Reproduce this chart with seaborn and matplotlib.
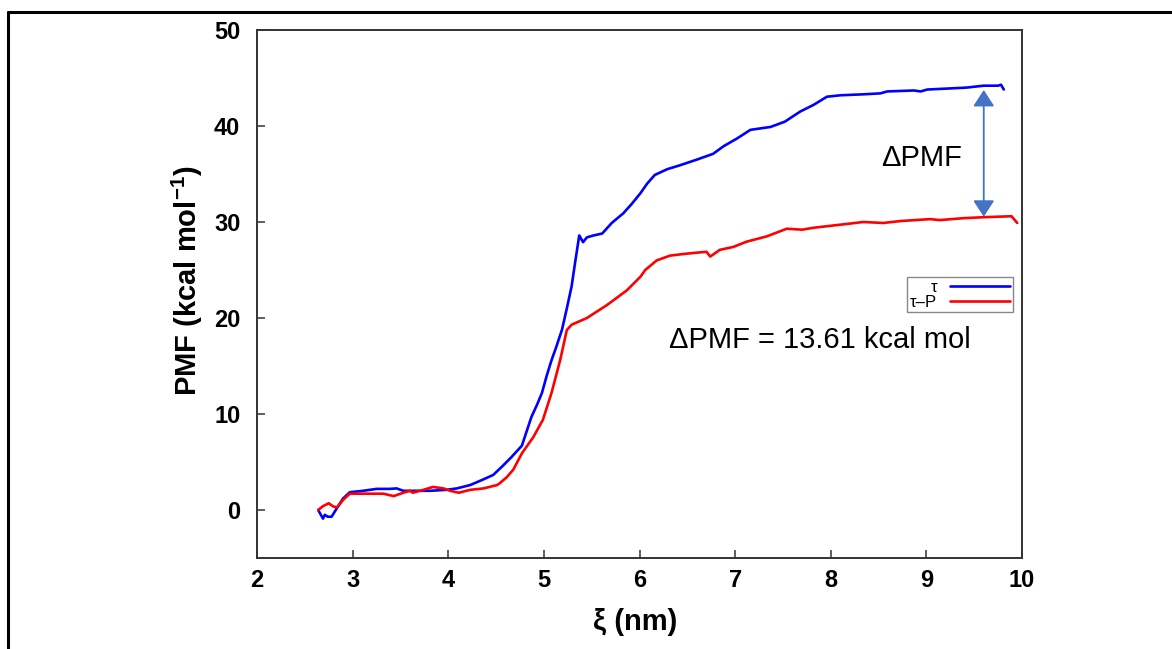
import numpy as np
import pandas as pd
import matplotlib
matplotlib.use("Agg")
import matplotlib.pyplot as plt
import seaborn as sns
from matplotlib.lines import Line2D

# --- data ---
xi_tau = [2.64, 2.69, 2.71, 2.74, 2.78, 2.83, 2.90, 2.97, 3.11, 3.25, 3.39, 3.46,
          3.53, 3.67, 3.81, 3.98, 4.09, 4.23, 4.37, 4.47, 4.56, 4.66, 4.77, 4.82,
          4.87, 4.93, 4.98, 5.03, 5.08, 5.13, 5.19, 5.24, 5.29, 5.33, 5.37, 5.41,
          5.45, 5.52, 5.61, 5.71, 5.83, 5.92, 6.01, 6.08, 6.16, 6.29, 6.42, 6.60,
          6.77, 6.88, 7.02, 7.16, 7.37, 7.52, 7.68, 7.82, 7.96, 8.10, 8.34, 8.52,
          8.59, 8.87, 8.94, 9.01, 9.22, 9.42, 9.60, 9.75, 9.78, 9.81]
pmf_tau = [0.0, -0.9, -0.5, -0.7, -0.7, 0.1, 1.2, 1.85, 2.0, 2.2, 2.2, 2.25,
           2.0, 2.0, 2.0, 2.1, 2.25, 2.6, 3.2, 3.65, 4.5, 5.5, 6.7, 8.2,
           9.7, 11.0, 12.2, 14.0, 15.6, 17.0, 18.8, 21.0, 23.3, 26.0, 28.6, 27.9,
           28.4, 28.6, 28.8, 29.9, 30.9, 31.9, 33.0, 34.0, 34.9, 35.5, 35.9, 36.5,
           37.1, 37.9, 38.7, 39.6, 39.9, 40.45, 41.5, 42.2, 43.05, 43.2, 43.3, 43.4,
           43.6, 43.7, 43.6, 43.8, 43.9, 44.0, 44.2, 44.2, 44.3, 43.8]

xi_taup = [2.64, 2.69, 2.75, 2.80, 2.84, 2.90, 2.97, 3.15, 3.32, 3.43, 3.53, 3.60,
           3.63, 3.74, 3.84, 3.95, 4.02, 4.11, 4.23, 4.37, 4.51, 4.54, 4.61, 4.68,
           4.77, 4.89, 4.99, 5.08, 5.17, 5.24, 5.29, 5.45, 5.66, 5.87, 6.01, 6.06,
           6.18, 6.32, 6.49, 6.70, 6.74, 6.84, 6.98, 7.12, 7.33, 7.54, 7.70, 7.82,
           8.17, 8.34, 8.55, 8.73, 9.04, 9.14, 9.39, 9.60, 9.89, 9.95]
pmf_taup = [0.0, 0.4, 0.7, 0.35, 0.3, 1.05, 1.7, 1.7, 1.7, 1.45, 1.8, 2.0,
            1.8, 2.1, 2.4, 2.25, 2.0, 1.8, 2.1, 2.25, 2.6, 2.8, 3.4, 4.2,
            5.9, 7.6, 9.4, 12.2, 15.6, 18.75, 19.3, 20.0, 21.35, 22.9, 24.3, 25.0,
            26.0, 26.5, 26.7, 26.9, 26.4, 27.1, 27.4, 27.95, 28.5, 29.3, 29.2, 29.4,
            29.8, 30.0, 29.9, 30.1, 30.3, 30.2, 30.4, 30.5, 30.6, 29.9]

series_names = ["τ", "τ–P"]
series_colors = ["#0000ff", "#ff0000"]
x_ticks = [2, 3, 4, 5, 6, 7, 8, 9, 10]
y_ticks = [0, 10, 20, 30, 40, 50]
dpmf_top = 43.75
dpmf_bottom = 30.55
dpmf_x = 9.6

df = pd.concat([
    pd.DataFrame({"xi": xi_tau, "pmf": pmf_tau, "system": series_names[0]}),
    pd.DataFrame({"xi": xi_taup, "pmf": pmf_taup, "system": series_names[1]}),
], ignore_index=True)

sns.set_style("white")
plt.rcParams["font.family"] = ["Liberation Sans", "DejaVu Sans"]
plt.rcParams["mathtext.fontset"] = "custom"
plt.rcParams["mathtext.rm"] = "Liberation Sans"
plt.rcParams["mathtext.bf"] = "Liberation Sans:bold"
plt.rcParams["text.color"] = "black"
plt.rcParams["axes.labelcolor"] = "black"

fig = plt.figure(figsize=(11.72, 6.49), dpi=100)
ax = fig.add_axes([257 / 1172, 1 - 558 / 649, 765 / 1172, 528 / 649])

sns.lineplot(data=df, x="xi", y="pmf", hue="system", palette=dict(zip(series_names, series_colors)),
             sort=False, estimator=None, linewidth=1.9, ax=ax)

ax.set_xlim(2, 10)
ax.set_ylim(-5, 50)
ax.set_xticks(x_ticks)
ax.set_yticks(y_ticks)
ax.tick_params(bottom=True, left=True, top=False, right=False, direction="in", length=6,
               width=1.1, color="#333333", labelcolor="black", labelsize=17)
ax.tick_params(axis="y", pad=12)
ax.tick_params(axis="x", pad=8)
for lab in ax.get_xticklabels() + ax.get_yticklabels():
    lab.set_fontweight("bold")
for sp in ax.spines.values():
    sp.set_color("#333333")
    sp.set_linewidth(1.4)

ax.set_xlabel("ξ (nm)", fontsize=21, fontweight="bold")
ax.set_ylabel(r"PMF (kcal mol$^{\mathbf{-1}}$)", fontsize=21, fontweight="bold")
ax.xaxis.set_label_coords(0.494, -0.095)
ax.yaxis.set_label_coords(-0.068, 0.525)

handles, labels = ax.get_legend_handles_labels()
leg = ax.legend(handles, labels, loc="upper right", bbox_to_anchor=(0.988, 0.532), borderaxespad=0,
                markerfirst=False, fontsize=12, handlelength=3.6, handletextpad=0.8, labelspacing=0.0,
                borderpad=0.15, frameon=True, fancybox=False, framealpha=1, edgecolor="#888888")
for t in leg.get_texts():
    t.set_color("black")

# delta PMF arrow and labels
ax.annotate("", xy=(dpmf_x, dpmf_bottom), xytext=(dpmf_x, dpmf_top),
            arrowprops=dict(arrowstyle="<|-|>,head_length=1.0,head_width=0.65", color="#4472C4",
                            lw=1.3, shrinkA=0, shrinkB=0, mutation_scale=10))
ax.text(8.95, 36.7, "ΔPMF", fontsize=21, ha="center", va="center", color="black")
ax.text(7.89, 17.7, "ΔPMF = 13.61 kcal mol", fontsize=21, ha="center", va="center", color="black")

# outer frame (left and top edges visible)
fig.add_artist(Line2D([7.5 / 1172, 7.5 / 1172], [0, 1 - 12 / 649], transform=fig.transFigure,
                      color="black", lw=2.2))
fig.add_artist(Line2D([7.5 / 1172, 1], [1 - 12 / 649, 1 - 12 / 649], transform=fig.transFigure,
                      color="black", lw=2.2))

fig.savefig("out.png", dpi=100)
